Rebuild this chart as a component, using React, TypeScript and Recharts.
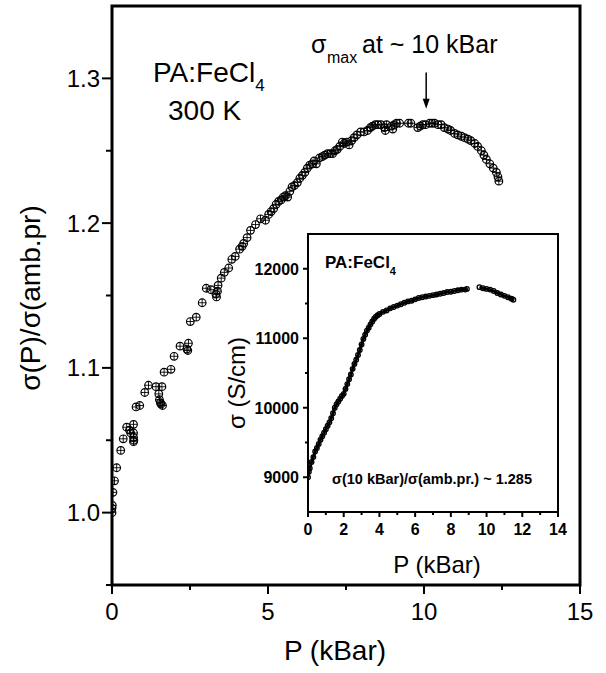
import React from "react";
import { ScatterChart, Scatter, XAxis, YAxis, ReferenceArea, ReferenceLine } from "recharts";

// main panel: sigma(P)/sigma(amb.pr) vs P (kBar)
const mainP = [
  0.0, 0.0, 0.01, 0.03, 0.08, 0.15, 0.28, 0.36, 0.47, 0.56, 0.6, 0.69, 0.69, 0.69, 0.69, 0.7,
  0.77, 0.89, 1.05, 1.17, 1.41, 1.6, 1.5, 1.52, 1.55, 1.57, 1.62, 1.67, 1.89, 1.99, 2.18, 2.4,
  2.43, 2.45, 2.51, 2.7, 2.89, 3.02, 3.17, 3.33, 3.35, 3.38, 3.4, 3.5, 3.6, 3.74, 3.84, 3.95,
  4.09, 4.17, 4.22, 4.33, 4.44, 4.6, 4.76, 4.92, 5.02, 5.1, 5.18, 5.26, 5.34, 5.42, 5.49, 5.56,
  5.63, 5.7, 5.77, 5.85, 5.94, 6.02, 6.1, 6.18, 6.26, 6.34, 6.42, 6.48, 6.55, 6.65, 6.74, 6.82,
  6.91, 7.0, 7.07, 7.15, 7.22, 7.3, 7.38, 7.44, 7.52, 7.6, 7.68, 7.76, 7.85, 7.97, 8.08, 8.19,
  8.28, 8.35, 8.44, 8.52, 8.62, 8.73, 8.76, 8.8, 8.95, 9.0, 9.05, 9.12, 9.22, 9.5, 9.58, 9.8,
  9.88, 9.96, 10.05, 10.18, 10.26, 10.34, 10.45, 10.55, 10.65, 10.77, 10.85, 10.98, 11.08, 11.2,
  11.3, 11.41, 11.5, 11.63, 11.72, 11.84, 11.92, 12.0, 12.11, 12.22, 12.32, 12.37, 12.4,
];
const mainRatio = [
  1.0, 1.003, 1.005, 1.014, 1.022, 1.031, 1.043, 1.051, 1.059, 1.057, 1.055, 1.061, 1.055, 1.052, 1.049, 1.05,
  1.073, 1.074, 1.083, 1.088, 1.087, 1.087, 1.082, 1.078, 1.076, 1.075, 1.074, 1.097, 1.099, 1.108, 1.115, 1.113,
  1.112, 1.117, 1.132, 1.135, 1.145, 1.155, 1.154, 1.151, 1.149, 1.153, 1.157, 1.162, 1.166, 1.169, 1.175, 1.177,
  1.182, 1.184, 1.186, 1.19, 1.195, 1.199, 1.203, 1.202, 1.206, 1.208, 1.21, 1.213, 1.215, 1.216, 1.218, 1.219,
  1.218, 1.222, 1.225, 1.226, 1.228, 1.231, 1.233, 1.235, 1.238, 1.24, 1.241, 1.243, 1.241, 1.245, 1.246, 1.247,
  1.248, 1.248, 1.248, 1.25, 1.251, 1.253, 1.256, 1.255, 1.256, 1.254, 1.257, 1.259, 1.261, 1.263, 1.263, 1.264,
  1.266, 1.267, 1.268, 1.268, 1.268, 1.266, 1.264, 1.268, 1.267, 1.265, 1.268, 1.269, 1.269, 1.269, 1.269, 1.266,
  1.267, 1.268, 1.268, 1.269, 1.269, 1.269, 1.268, 1.268, 1.266, 1.265, 1.264, 1.262, 1.261, 1.26,
  1.259, 1.258, 1.257, 1.255, 1.253, 1.25, 1.247, 1.244, 1.241, 1.238, 1.235, 1.232, 1.229,
];

// inset: sigma (S/cm) vs P (kBar), two runs either side of the gap near 9 kBar
const insetP1 = [
  0.0, 0.05, 0.1, 0.2, 0.3, 0.4, 0.5, 0.6, 0.7, 0.8, 0.9, 1.0, 1.1, 1.2, 1.3, 1.4, 1.5, 1.6, 1.7, 1.8,
  1.9, 2.0, 2.1, 2.2, 2.3, 2.4, 2.5, 2.6, 2.7, 2.8, 2.9, 3.0, 3.1, 3.2, 3.3, 3.4, 3.5, 3.6, 3.7, 3.8,
  3.9, 4.0, 4.2, 4.4, 4.6, 4.8, 5.0, 5.2, 5.4, 5.6, 5.8, 6.0, 6.2, 6.4, 6.6, 6.8, 7.0, 7.2, 7.4, 7.6,
  7.8, 8.0, 8.2, 8.4, 8.6, 8.8, 8.9,
];
const insetSigma1 = [
  9000, 9080, 9130, 9220, 9290, 9370, 9420, 9480, 9540, 9590, 9640, 9690, 9740, 9790, 9850, 9920, 10000, 10050, 10090, 10130,
  10170, 10200, 10270, 10340, 10410, 10480, 10560, 10630, 10690, 10760, 10830, 10910, 10990, 11050, 11110, 11150, 11200, 11240, 11280, 11310,
  11330, 11350, 11380, 11400, 11430, 11450, 11470, 11490, 11510, 11530, 11540, 11560, 11580, 11590, 11600, 11610, 11620, 11630, 11640, 11650,
  11665, 11670, 11680, 11690, 11700, 11700, 11710,
];
const insetP2 = [9.6, 9.8, 10.0, 10.2, 10.4, 10.6, 10.8, 11.0, 11.2, 11.4, 11.5];
const insetSigma2 = [11735, 11720, 11710, 11700, 11680, 11650, 11630, 11610, 11590, 11570, 11555];

const mainXTicks = [0, 2.5, 5, 7.5, 10, 12.5, 15];
const mainXLabels = ["0", "", "5", "", "10", "", "15"];
const mainYTicks = [0.95, 1.0, 1.05, 1.1, 1.15, 1.2, 1.25, 1.3];
const mainYLabels = ["", "1.0", "", "1.1", "", "1.2", "", "1.3"];
const insetXTicks = [0, 1, 2, 3, 4, 5, 6, 7, 8, 9, 10, 11, 12, 13, 14];
const insetXLabels = ["0", "", "2", "", "4", "", "6", "", "8", "", "10", "", "12", "", "14"];
const insetYTicks = [9000, 9500, 10000, 10500, 11000, 11500, 12000];
const insetYLabels = ["9000", "", "10000", "", "11000", "", "12000"];

const FONT = "'Liberation Sans', Arial, Helvetica, sans-serif";

const mainData = mainP.map((p, i) => ({ p, r: mainRatio[i] }));
const insetData1 = insetP1.map((p, i) => ({ p, s: insetSigma1[i] }));
const insetData2 = insetP2.map((p, i) => ({ p, s: insetSigma2[i] }));

function makeXTick(ticks: number[], labels: string[], major: number, minor: number, fontSize: number, dy: number, bold: boolean) {
  return (props: any) => {
    const { x, y, payload } = props;
    const label = labels[ticks.indexOf(payload.value)] || "";
    return (
      <g>
        <line x1={x} x2={x} y1={y} y2={y + (label ? major : minor)} stroke="#000" strokeWidth={2} />
        {label && (
          <text x={x} y={y + dy} textAnchor="middle" fontSize={fontSize} fontFamily={FONT} fontWeight={bold ? "bold" : "normal"} fill="#000">
            {label}
          </text>
        )}
      </g>
    );
  };
}

function makeYTick(ticks: number[], labels: string[], major: number, minor: number, fontSize: number, gap: number, dy: number, bold: boolean) {
  return (props: any) => {
    const { x, y, payload } = props;
    const label = labels[ticks.indexOf(payload.value)] || "";
    return (
      <g>
        <line x1={x} x2={x - (label ? major : minor)} y1={y} y2={y} stroke="#000" strokeWidth={2} />
        {label && (
          <text x={x - gap} y={y + dy} textAnchor="end" fontSize={fontSize} fontFamily={FONT} fontWeight={bold ? "bold" : "normal"} fill="#000">
            {label}
          </text>
        )}
      </g>
    );
  };
}

function CrossCircle(props: any) {
  const { cx, cy } = props;
  const r = 3.8;
  return (
    <g>
      <circle cx={cx} cy={cy} r={r} fill="none" stroke="#000" strokeWidth={1.2} />
      <line x1={cx - r} x2={cx + r} y1={cy} y2={cy} stroke="#000" strokeWidth={0.9} />
      <line x1={cx} x2={cx} y1={cy - r} y2={cy + r} stroke="#000" strokeWidth={0.9} />
    </g>
  );
}

function SmallCircle(props: any) {
  const { cx, cy } = props;
  return <circle cx={cx} cy={cy} r={2.3} fill="none" stroke="#000" strokeWidth={1.3} />;
}

function Arrow(props: any) {
  const { x1, y1, x2, y2 } = props;
  return (
    <g>
      <line x1={x1} y1={y1} x2={x2} y2={y2 - 8} stroke="#000" strokeWidth={1.5} />
      <polygon points={`${x2 - 3.5},${y2 - 10} ${x2 + 3.5},${y2 - 10} ${x2},${y2}`} fill="#000" />
    </g>
  );
}

const insetLine = { stroke: "#000", strokeWidth: 3 };

export default function App() {
  return (
    <div style={{ position: "absolute", left: 0, top: 0, width: 606, height: 673, background: "#fff" }}>
      <div style={{ position: "absolute", left: 0, top: 0 }}>
        <ScatterChart width={606} height={673} margin={{ top: 6, right: 26, bottom: 0, left: 0 }}>
          <XAxis
            type="number"
            dataKey="p"
            domain={[0, 15]}
            ticks={mainXTicks}
            interval={0}
            allowDataOverflow
            height={88}
            axisLine={false}
            tickLine={false}
            tickSize={0}
            tickMargin={0}
            tick={makeXTick(mainXTicks, mainXLabels, 9, 5, 24, 35, false)}
          />
          <YAxis
            type="number"
            dataKey="r"
            domain={[0.95, 1.35]}
            ticks={mainYTicks}
            interval={0}
            allowDataOverflow
            width={112}
            axisLine={false}
            tickLine={false}
            tickSize={0}
            tickMargin={0}
            tick={makeYTick(mainYTicks, mainYLabels, 10, 6, 24, 12, 8.5, false)}
          />
          <ReferenceArea x1={0} x2={15} y1={0.95} y2={1.35} fill="none" fillOpacity={0} stroke="#000" strokeWidth={3} />
          <ReferenceLine segment={[{ x: 10.07, y: 1.304 }, { x: 10.07, y: 1.279 }]} shape={Arrow} />
          <Scatter data={mainData} shape={CrossCircle} isAnimationActive={false} />
        </ScatterChart>
      </div>

      <div style={{ position: "absolute", left: 200, top: 220 }}>
        <ScatterChart width={400} height={370} margin={{ top: 14, right: 42, bottom: 0, left: 0 }}>
          <XAxis
            type="number"
            dataKey="p"
            domain={[0, 14]}
            ticks={insetXTicks}
            interval={0}
            allowDataOverflow
            height={78}
            axisLine={false}
            tickLine={false}
            tickSize={0}
            tickMargin={0}
            tick={makeXTick(insetXTicks, insetXLabels, 5, 3, 16, 23, true)}
          />
          <YAxis
            type="number"
            dataKey="s"
            domain={[8500, 12500]}
            ticks={insetYTicks}
            interval={0}
            allowDataOverflow
            width={108}
            axisLine={false}
            tickLine={false}
            tickSize={0}
            tickMargin={0}
            tick={makeYTick(insetYTicks, insetYLabels, 5, 3, 16, 9, 6, true)}
          />
          <ReferenceArea x1={0} x2={14} y1={8500} y2={12500} fill="none" fillOpacity={0} stroke="#000" strokeWidth={2} />
          <Scatter data={insetData1} shape={SmallCircle} line={insetLine} isAnimationActive={false} />
          <Scatter data={insetData2} shape={SmallCircle} line={insetLine} isAnimationActive={false} />
        </ScatterChart>
      </div>

      <svg width={606} height={673} style={{ position: "absolute", left: 0, top: 0, pointerEvents: "none" }} fontFamily={FONT} fill="#000">
        {/* main axis titles */}
        <text transform="translate(40,298) rotate(-90)" textAnchor="middle" fontSize={28}>σ(P)/σ(amb.pr)</text>
        <text x={335} y={660} textAnchor="middle" fontSize={28}>P (kBar)</text>
        {/* main annotations */}
        <text x={153} y={82} fontSize={28}>
          PA:FeCl<tspan fontSize={17} dy={9}>4</tspan>
        </text>
        <text x={168} y={120} fontSize={28}>300 K</text>
        <text x={311} y={53} fontSize={25}>σ</text>
        <text x={327} y={63} fontSize={16}>max</text>
        <text x={362} y={53} fontSize={25}>at ~ 10 kBar</text>
        {/* inset titles */}
        <text x={325} y={268} fontSize={17} fontWeight="bold">
          PA:FeCl<tspan fontSize={11} dy={7}>4</tspan>
        </text>
        <text x={332} y={484} fontSize={14.5} fontWeight="bold">σ(10 kBar)/σ(amb.pr.) ~ 1.285</text>
        <text x={437} y={573} textAnchor="middle" fontSize={24}>P (kBar)</text>
        <text transform="translate(245,383) rotate(-90)" textAnchor="middle" fontSize={24}>σ (S/cm)</text>
      </svg>
    </div>
  );
}
